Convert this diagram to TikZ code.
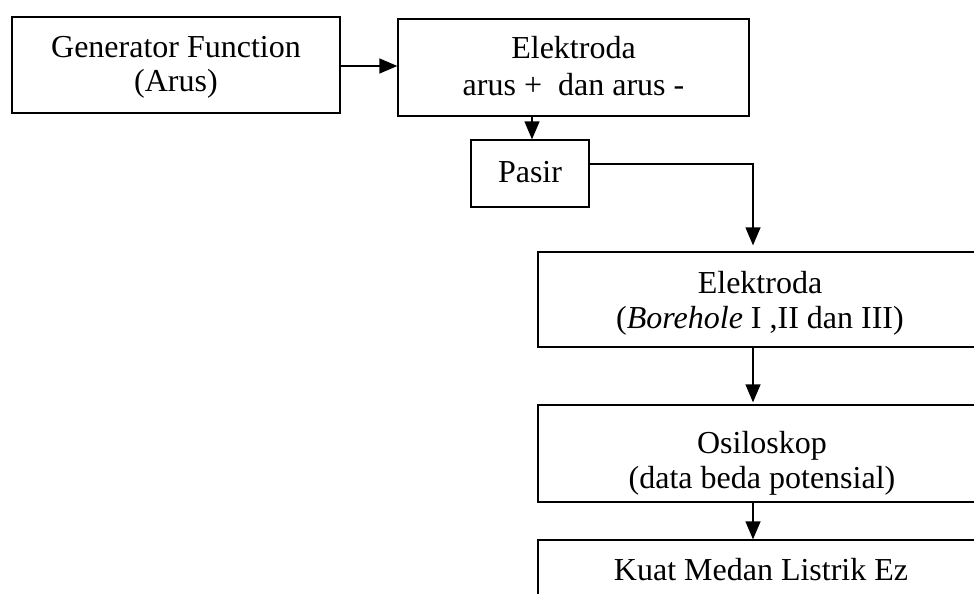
\documentclass[tikz,border=0pt]{standalone}
\usepackage{fontspec}
\setmainfont{Liberation Serif}
\usetikzlibrary{arrows.meta}
\tikzset{
  box/.style={draw, line width=1.3pt, rectangle, inner sep=0pt},
  txt/.style={inner sep=0pt, anchor=base, font=\fontsize{32}{35}\selectfont},
  flow/.style={line width=1.3pt, -{Triangle[length=18pt,width=15pt]}}
}
\begin{document}
\begin{tikzpicture}[x=1pt,y=-1pt]
\useasboundingbox (0,0) rectangle (974,594);
% boxes
\node[box, minimum width=328pt, minimum height=96pt] (gen) at (176,65) {};
\node[box, minimum width=351pt, minimum height=97pt] (el1) at (573.5,67.5) {};
\node[box, minimum width=118pt, minimum height=67pt] (pasir) at (530,173.5) {};
\node[box, minimum width=446pt, minimum height=95pt] (el2) at (761,299.5) {};
\node[box, minimum width=446pt, minimum height=97pt] (osc) at (761,453.5) {};
\node[box, minimum width=446pt, minimum height=97pt] (kuat) at (761,588.5) {};
% texts
\node[txt] (gent1) at (176,57) {Generator Function};
\node[txt] (gent2) at (176,92) {(Arus)};
\node[txt] (el1t1) at (573.5,59) {Elektroda};
\node[txt] (el1t2) at (573.5,95) {arus +\ \ dan arus -};
\node[txt] (pasirt) at (530,182) {Pasir};
\node[txt] (el2t1) at (760,293) {Elektroda};
\node[txt] (el2t2) at (760,328) {(\textit{Borehole} I ,II dan III)};
\node[txt] (osct1) at (762,453) {Osiloskop};
\node[txt] (osct2) at (762,488) {(data beda potensial)};
\node[txt] (kuatt) at (761,580) {Kuat Medan Listrik Ez};
% connectors
\coordinate (c1) at (gen.east |- 0,66);
\draw[flow] (c1) -- (c1 -| el1.west);
\draw[flow] (el1.south -| 532,0) -- (pasir.north -| 532,0);
\coordinate (turn) at (753,164);
\draw[flow, shorten >=6pt] (pasir.east |- turn) -- (turn) -- (el2.north -| turn);
\draw[flow, shorten >=2pt] (el2.south -| turn) -- (osc.north -| turn);
\draw[flow] (osc.south -| turn) -- (kuat.north -| turn);
\end{tikzpicture}
\end{document}
